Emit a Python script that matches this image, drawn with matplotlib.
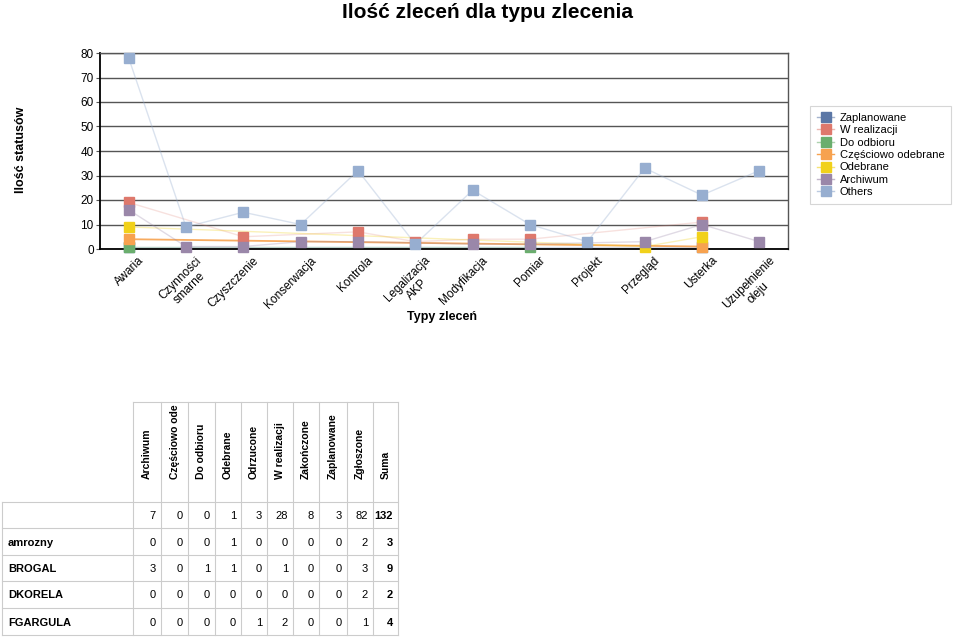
import numpy as np
import matplotlib
matplotlib.use('Agg')
import matplotlib.pyplot as plt
import matplotlib.transforms as mtrans
from matplotlib.patches import Rectangle

plt.rcParams['font.family'] = ['Liberation Sans', 'DejaVu Sans']

categories = ['Awaria', 'Czynności\nsmarne', 'Czyszczenie', 'Konserwacja', 'Kontrola',
              'Legalizacja\nAKP', 'Modyfikacja', 'Pomiar', 'Projekt', 'Przegląd',
              'Usterka', 'Uzupełnienie\noleju']
nan = np.nan
series_names = ['Zaplanowane', 'W realizacji', 'Do odbioru', 'Częściowo odebrane',
                'Odebrane', 'Archiwum', 'Others']
zaplanowane = [1, nan, nan, nan, nan, nan, nan, nan, nan, nan, 1, nan]
w_realizacji = [19, nan, 5, nan, 7, 3, 4, 4, nan, nan, 11, nan]
do_odbioru = [1, nan, nan, nan, nan, nan, nan, 1, nan, nan, nan, nan]
czesciowo = [4, nan, nan, nan, nan, nan, nan, nan, nan, nan, 1, nan]
odebrane = [9, nan, nan, nan, nan, nan, nan, nan, nan, 1, 5, nan]
archiwum = [16, 1, 1, 3, 3, nan, 2, 2, nan, 3, 10, 3]
others = [78, 9, 15, 10, 32, 2, 24, 10, 3, 33, 22, 32]
series_vals = [zaplanowane, w_realizacji, do_odbioru, czesciowo, odebrane, archiwum, others]
colors = ['#5b77a6', '#de786c', '#6aae6d', '#f7a24f', '#f1d11a', '#9a87a9', '#97aed0']
line_alpha = [0.25, 0.22, 0.25, 0.9, 0.3, 0.3, 0.35]

# table
col_headers = ['Archiwum', 'Częściowo ode', 'Do odbioru', 'Odebrane', 'Odrzucone',
               'W realizacji', 'Zakończone', 'Zaplanowane', 'Zgłoszone', 'Suma']
row_labels = ['', 'amrozny', 'BROGAL', 'DKORELA', 'FGARGULA']
row_total = [7, 0, 0, 1, 3, 28, 8, 3, 82, 132]
row_amrozny = [0, 0, 0, 1, 0, 0, 0, 0, 2, 3]
row_brogal = [3, 0, 1, 1, 0, 1, 0, 0, 3, 9]
row_dkorela = [0, 0, 0, 0, 0, 0, 0, 0, 2, 2]
row_fgargula = [0, 0, 0, 0, 1, 2, 0, 0, 1, 4]
table_rows = [row_total, row_amrozny, row_brogal, row_dkorela, row_fgargula]

W, H = 960, 637
fig = plt.figure(figsize=(9.6, 6.37), dpi=100)

# table drawn in pixel coordinates
tab = fig.add_axes([0, 0, 1, 1])
tab.set_xlim(0, W)
tab.set_ylim(H, 0)
tab.axis('off')
col_x = [133, 161, 188, 215, 241, 267, 293, 319, 347, 373, 398]
row_y = [502, 528, 555, 581, 608, 635]
head_top = 402
bc = '#cccccc'
for xx in col_x:
    tab.plot([xx, xx], [head_top, row_y[-1]], color=bc, lw=0.8)
tab.plot([2, 2], [row_y[0], row_y[-1]], color=bc, lw=0.8)
tab.plot([col_x[0], col_x[-1]], [head_top, head_top], color=bc, lw=0.8)
for y in row_y:
    tab.plot([2, col_x[-1]], [y, y], color=bc, lw=0.8)
for i, h in enumerate(col_headers):
    xc = (col_x[i] + col_x[i + 1]) / 2
    tab.text(xc, 479, h, rotation=90, ha='center', va='bottom',
             fontsize=7.5, fontweight='bold')
for r, (lab, vals) in enumerate(zip(row_labels, table_rows)):
    yc = (row_y[r] + row_y[r + 1]) / 2 + 1
    tab.text(8, yc, lab, ha='left', va='center', fontsize=8, fontweight='bold')
    for i, v in enumerate(vals):
        last = i == len(vals) - 1
        t = tab.text(col_x[i + 1] - 5, yc, str(v), ha='right', va='center',
                     fontsize=8, fontweight='bold' if last else 'normal')
        if last:
            clip = Rectangle((col_x[i] + 1, row_y[r]), col_x[i + 1] - col_x[i], row_y[r + 1] - row_y[r],
                             transform=tab.transData)
            t.set_clip_path(clip)

# chart
ax = fig.add_axes([100 / W, 1 - 249 / H, 688 / W, 196 / H])
x = np.arange(len(categories))
handles = []
for name, vals, c, la in zip(series_names, series_vals, colors, line_alpha):
    v = np.array(vals, dtype=float)
    m = ~np.isnan(v)
    ax.plot(x[m], v[m], color=c, alpha=la, lw=1.3 if la > 0.8 else 1.0, zorder=2, clip_on=False)
    ax.plot(x[m], v[m], linestyle='none', marker='s', ms=6.5, color=c, zorder=3, clip_on=False)
    hl, = ax.plot([], [], color=c, alpha=min(1, la + 0.3), lw=1.0)
    hm, = ax.plot([], [], linestyle='none', marker='s', ms=7, color=c)
    handles.append((hl, hm))

ax.set_xlim(-0.5, len(categories) - 0.5)
ax.set_ylim(0, 80)
ax.set_yticks(np.arange(0, 81, 10))
ax.yaxis.grid(True, color='#555555', lw=1)
ax.set_axisbelow(True)
ax.tick_params(axis='y', labelsize=8.5, length=3, color='#555555', pad=1.5)
ax.set_xticks(x)
ax.set_xticklabels(categories, rotation=45, ha='right', rotation_mode='anchor',
                   fontsize=8.5, multialignment='center')
ax.tick_params(axis='x', length=0, pad=4)
shift = mtrans.ScaledTranslation(9 / 100, 0, fig.dpi_scale_trans)
for lab in ax.get_xticklabels():
    lab.set_transform(lab.get_transform() + shift)
for s in ['top', 'right']:
    ax.spines[s].set_color('#555555')
    ax.spines[s].set_linewidth(1)
for s in ['left', 'bottom']:
    ax.spines[s].set_color('black')
    ax.spines[s].set_linewidth(1.3)

fig.text(487 / W, 1 - 12 / H, 'Ilość zleceń dla typu zlecenia', ha='center', va='center',
         fontsize=15, fontweight='bold')
fig.text(21 / W, 1 - 150 / H, 'Ilość statusów', rotation=90, ha='center', va='center',
         fontsize=9, fontweight='bold')
fig.text(442 / W, 1 - 317 / H, 'Typy zleceń', ha='center', va='center',
         fontsize=9, fontweight='bold')

leg = fig.legend(handles, series_names, loc='upper left',
                 bbox_to_anchor=(810 / W, 1 - 106 / H), fontsize=8, frameon=True,
                 fancybox=False, edgecolor='#cccccc', handlelength=1.6,
                 handletextpad=0.5, labelspacing=0.22, borderpad=0.6,
                 borderaxespad=0)
leg.get_frame().set_linewidth(0.8)

fig.savefig('out.png', dpi=100)
